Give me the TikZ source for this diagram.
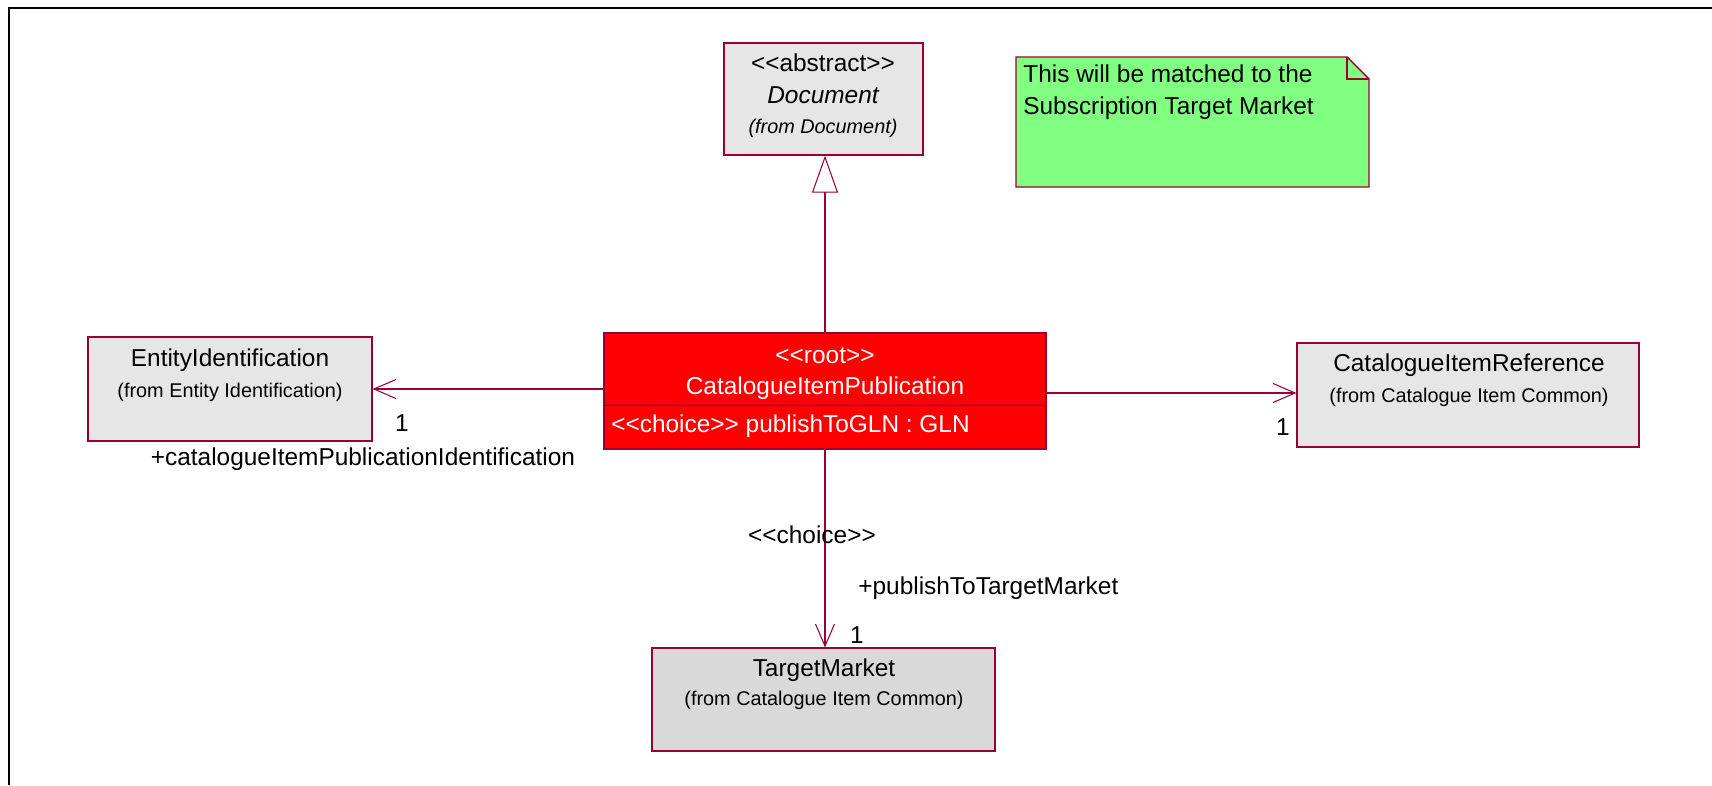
\documentclass[tikz,border=0pt]{standalone}
\usepackage{fontspec}
\setmainfont{Liberation Sans}[Ligatures=TeXOff]
\usetikzlibrary{arrows.meta,positioning}

\definecolor{umlline}{RGB}{153,0,51}
\definecolor{umlgray}{RGB}{230,230,230}
\definecolor{umldark}{RGB}{217,217,217}
\definecolor{notegreen}{RGB}{128,255,128}
\definecolor{rootred}{RGB}{255,0,0}
\definecolor{rootline}{RGB}{200,0,40}

\newcommand{\bigtxt}{\fontsize{13.9}{17}\selectfont}
\newcommand{\smalltxt}{\fontsize{11.3}{14}\selectfont}

\tikzset{
  cls/.style={draw=umlline, fill=umlgray, line width=0.7pt, inner sep=0pt},
  rootcls/.style={cls, fill=rootred},
  assoc/.style={draw=umlline, line width=0.6pt, -{Straight Barb[length=0.44cm, width=0.38cm]}},
  gen/.style={draw=umlline, line width=0.6pt, -{Triangle[open, length=0.74cm, width=0.52cm, fill=white]}},
  lbl/.style={font=\bigtxt, inner sep=0pt},
  from/.style={font=\smalltxt, inner sep=0pt},
}

\begin{document}
\begin{tikzpicture}[x=0.02cm, y=-0.02cm]
  \useasboundingbox (0,0) rectangle (1712,785);
  \draw[line width=1.4pt] (9,785) -- (9,8) -- (1712,8);

  % classes
  \node[cls, minimum width=3.98cm, minimum height=2.24cm] (doc) at (823.5,99) {};
  \node[cls, minimum width=5.68cm, minimum height=2.08cm] (ent) at (230,389) {};
  \node[cls, minimum width=6.84cm, minimum height=2.08cm] (ref) at (1468,395) {};
  \node[cls, fill=umldark, minimum width=6.86cm, minimum height=2.06cm] (tm) at (823.5,699.5) {};
  \node[rootcls, minimum width=8.84cm, minimum height=1.44cm] (rootA) at (825,369) {};
  \node[rootcls, minimum width=8.84cm, minimum height=0.88cm] (rootB) at (825,427) {};
  \draw[rootline, line width=0.8pt] (rootB.north west) -- (rootB.north east);

  \node[lbl] (docS) at (823,63) {<<abstract>>};
  \node[lbl, font=\bigtxt\itshape] (docN) at (823,95) {Document};
  \node[from, font=\smalltxt\itshape] (docF) at (823,128) {(from Document)};
  \node[lbl] (entN) at (230,360) {EntityIdentification};
  \node[from] (entF) at (230,392) {(from Entity Identification)};
  \node[lbl, white] (rootS) at (825,356) {<<root>>};
  \node[lbl, white] (rootN) at (825,388) {CatalogueItemPublication};
  \node[lbl, white, anchor=west] (rootT) at (611,426) {<<choice>> publishToGLN : GLN};
  \node[lbl] (refN) at (1469,365) {CatalogueItemReference};
  \node[from] (refF) at (1469,397) {(from Catalogue Item Common)};
  \node[lbl] (tmN) at (824,670) {TargetMarket};
  \node[from] (tmF) at (824,700) {(from Catalogue Item Common)};

  % note
  \coordinate (noteA) at (1016,57);
  \coordinate (noteB) at (1347,57);
  \coordinate (noteC) at (1369,79);
  \coordinate (noteD) at (1369,187);
  \coordinate (noteE) at (1016,187);
  \draw[umlline, fill=notegreen, line width=0.8pt] (noteA) -- (noteB) -- (noteC) -- (noteD) -- (noteE) -- cycle;
  \draw[umlline, line width=0.6pt] (noteB) -- (noteB |- noteC) -- (noteC);
  \node[lbl, anchor=north west, align=left] (noteT) at (1023,64)
    {This will be matched to the\\[1.5pt]Subscription Target Market};

  % relations
  \draw[gen] (rootA.north) -- (rootA.north |- doc.south);
  \draw[assoc] (rootA.west |- ent.east) -- (ent.east);
  \draw[assoc] (rootA.east |- 0,393) -- (ref.west |- 0,393);
  \draw[assoc] (rootB.south) -- (rootB.south |- tm.north);

  \node[lbl] (mEnt) at (402,423) {1};
  \node[lbl] (rEnt) at (363,459) {+catalogueItemPublicationIdentification};
  \node[lbl] (mRef) at (1283,427) {1};
  \node[lbl] (sTm) at (812,535) {<<choice>>};
  \node[lbl, anchor=west] (rTm) at (858,588) {+publishToTargetMarket};
  \node[lbl] (mTm) at (857,635) {1};
\end{tikzpicture}
\end{document}
